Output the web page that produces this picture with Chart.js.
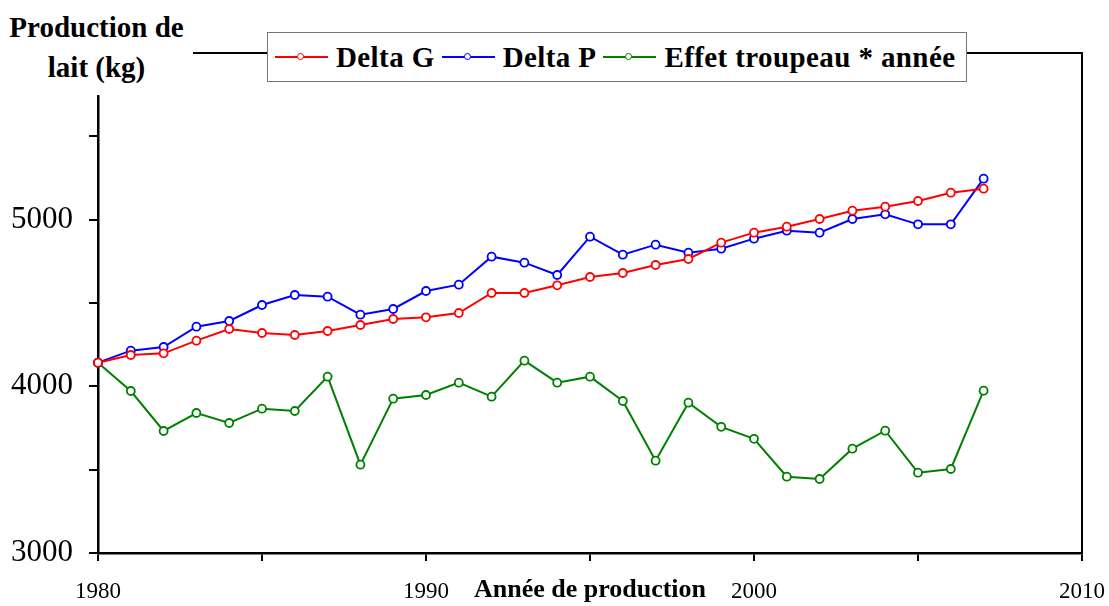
<!DOCTYPE html>
<html>
<head>
<meta charset="utf-8">
<script src="https://cdn.jsdelivr.net/npm/chart.js@4"></script>
<style>
  body { margin: 0; background: #fff; }
  #wrap { position: relative; width: 1109px; height: 606px; }
  #ytitle {
    position: absolute; left: 0; top: 0; width: 193px; height: 95px;
    background: #fff; font: bold 29px "Liberation Serif", serif;
    line-height: 40px; text-align: center; padding-top: 7px; box-sizing: border-box;
  }
  #legend {
    position: absolute; left: 267px; top: 32px; width: 700px; height: 50px;
    background: #fff; border: 1.5px solid #777; box-sizing: border-box;
    display: flex; align-items: center; padding-left: 7px;
    font: bold 29px "Liberation Serif", serif; letter-spacing: 0.4px; white-space: nowrap;
  }
  .sym { position: relative; width: 53px; height: 10px; margin-right: 8px; }
  .sym i { position: absolute; left: 0; right: 0; top: 4px; height: 2px; }
  .sym b { position: absolute; left: 22px; top: 1px; width: 5px; height: 5px; border: 1.5px solid; border-radius: 50%; background: #fff; }
  .lab { margin-right: 7px; }
</style>
</head>
<body>
<div id="wrap">
  <canvas id="myChart" width="1109" height="606"></canvas>
  <div id="ytitle">Production de<br>lait (kg)</div>
  <div id="legend"></div>
</div>
<script>
const annees = [1980,1981,1982,1983,1984,1985,1986,1987,1988,1989,1990,1991,1992,1993,
  1994,1995,1996,1997,1998,1999,2000,2001,2002,2003,2004,2005,2006,2007]
const deltaG = [4142,4188,4198,4274,4344,4320,4308,4332,4368,4404,4414,4440,4560,4560,
  4606,4656,4680,4728,4764,4862,4922,4958,5004,5054,5078,5112,5162,5186]
const deltaP = [4142,4214,4236,4358,4392,4488,4548,4538,4430,4464,4572,4610,4778,4742,
  4668,4898,4790,4850,4802,4826,4886,4934,4922,5004,5032,4972,4972,5246]
const effetTroupeau = [4142,3972,3732,3840,3780,3866,3852,4058,3530,3926,3948,4022,3938,4154,
  4022,4058,3912,3554,3902,3757,3685,3458,3444,3626,3734,3482,3504,3974]
const noms = ['Delta G', 'Delta P', 'Effet troupeau * année']
const couleurs = ['#ff0000', '#0000ff', '#008000']
const yTicksLabels = [3000, 4000, 5000]
const xTicksLabels = [1980, 1990, 2000, 2010]

function serie(nom, vals, coul) {
  return {
    label: nom,
    data: vals.map((v, i) => ({ x: annees[i], y: v })),
    borderColor: coul,
    backgroundColor: '#fff',
    borderWidth: 2,
    pointRadius: 4,
    pointBorderWidth: 1.8,
    pointBackgroundColor: '#fff',
    pointBorderColor: coul,
    tension: 0,
    clip: false
  }
}

const cadre = {
  id: 'cadre',
  afterDraw(chart) {
    const a = chart.chartArea, ctx = chart.ctx
    ctx.save()
    ctx.strokeStyle = '#000'
    ctx.lineWidth = 2
    ctx.beginPath()
    ctx.moveTo(a.left, a.top)
    ctx.lineTo(a.right, a.top)
    ctx.lineTo(a.right, a.bottom)
    ctx.stroke()
    ctx.restore()
  }
}

const police = '"Liberation Serif", serif'

const config = {
  type: 'line',
  data: {
    datasets: [
      serie(noms[0], deltaG, couleurs[0]),
      serie(noms[1], deltaP, couleurs[1]),
      serie(noms[2], effetTroupeau, couleurs[2])
    ]
  },
  options: {
    responsive: false,
    animation: false,
    layout: { padding: { left: 0, right: 27, top: 53, bottom: 0 } },
    plugins: { legend: { display: false }, tooltip: { enabled: false } },
    scales: {
      x: {
        type: 'linear', min: 1980, max: 2010,
        afterFit(s) { s.height = 53; s.paddingRight = 0; s.paddingLeft = 0 },
        grid: { drawOnChartArea: false, drawTicks: true, tickLength: 8, color: '#000', lineWidth: 2 },
        border: { color: '#000', width: 2.5 },
        ticks: {
          stepSize: 5, maxRotation: 0, autoSkip: false, padding: 17,
          color: '#000', font: { family: police, size: 23 },
          callback: v => xTicksLabels.includes(v) ? String(v) : ''
        },
        title: {
          display: true, text: 'Année de production', color: '#000',
          font: { family: police, size: 26, weight: 'bold' },
          padding: { top: 0, bottom: 0 }
        }
      },
      y: {
        min: 3000, max: 6000,
        afterFit(s) { s.width = 98; s.paddingTop = 0; s.paddingBottom = 0 },
        grid: { drawOnChartArea: false, drawTicks: true, tickLength: 9, color: '#000', lineWidth: 2 },
        border: { color: '#000', width: 2.5 },
        ticks: {
          stepSize: 500, autoSkip: false, padding: 16,
          color: '#000', font: { family: police, size: 31 },
          callback: v => yTicksLabels.includes(v) ? String(v) : ''
        }
      }
    }
  },
  plugins: [cadre]
}

const myChart = new Chart(document.getElementById('myChart'), config)

// legende en html par dessus le cadre
const leg = document.getElementById('legend')
noms.forEach((n, i) => {
  leg.insertAdjacentHTML('beforeend',
    `<span class="sym"><i style="background:${couleurs[i]}"></i><b style="border-color:${couleurs[i]}"></b></span><span class="lab">${n}</span>`)
})
</script>
</body>
</html>
